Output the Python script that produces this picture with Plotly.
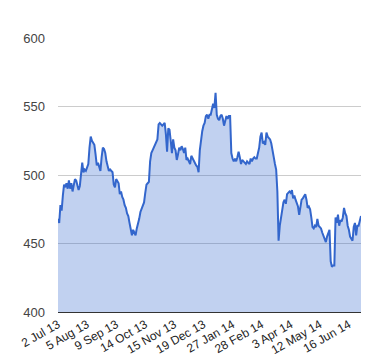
import plotly.graph_objects as go

values = [
    468, 465, 478, 474, 485, 493, 491, 494, 490, 496,
    490, 494, 488, 492, 497, 496, 493, 489, 492, 500,
    509, 502, 504, 503, 505, 508, 520, 528, 525, 523,
    522, 515, 507, 509, 506, 503, 513, 520, 519, 516,
    510, 506, 503, 504, 503, 502, 493, 491, 497, 495,
    494, 486, 488, 484, 482, 478, 476, 472, 470, 465,
    461, 456, 460, 458, 456, 461, 464, 468, 473, 475,
    477, 480, 487, 493, 494, 495, 510, 516, 518, 520,
    522, 524, 526, 537, 538, 537, 536, 537, 538, 530,
    517, 534, 533, 525, 516, 526, 520, 518, 511, 515,
    520, 518, 521, 519, 516, 520, 511, 512, 510, 508,
    514, 512, 511, 508, 507, 506, 502, 518, 526, 532,
    536, 538, 543, 544, 541, 544, 544, 548, 552, 549,
    560, 544, 541, 540, 543, 544, 541, 536, 540, 543,
    541, 543, 543, 516, 512, 510, 512, 510, 513, 517,
    513, 508, 511, 510, 509, 508, 510, 509, 508, 512,
    510, 512, 513, 512, 512, 516, 520, 528, 531, 523,
    524, 522, 531, 528, 527, 526, 523, 516, 513, 508,
    504, 488, 452, 463, 470, 476, 480, 482, 479, 486,
    487, 488, 487, 489, 483, 485, 482, 480, 477, 471,
    477, 482, 483, 485, 486, 482, 476, 477, 475, 469,
    462, 461, 463, 462, 468, 463, 462, 461, 458, 456,
    454, 451, 455, 458, 460, 437, 433, 434, 434, 469,
    465, 471, 463, 467, 466, 469, 476, 472, 470, 463,
    460, 455, 453, 452, 462, 465, 456, 463, 463, 466,
    470,
]
tick_labels = ["2 Jul 13", "5 Aug 13", "9 Sep 13", "14 Oct 13", "15 Nov 13",
               "19 Dec 13", "27 Jan 14", "28 Feb 14", "3 Apr 14", "12 May 14",
               "16 Jun 14"]
tick_step = 24
y_ticks = [400, 450, 500, 550, 600]

x = list(range(len(values)))
tick_positions = [i * tick_step for i in range(len(tick_labels))]

fig = go.Figure()
fig.add_trace(go.Scatter(
    x=x, y=values, mode="lines",
    line=dict(color="#3366CC", width=2),
    fill="tozeroy", fillcolor="rgba(51,102,204,0.3)",
    hoverinfo="skip",
))

fig.update_layout(
    width=372, height=352,
    margin=dict(l=50, r=19, t=30, b=48),
    paper_bgcolor="white", plot_bgcolor="white",
    showlegend=False,
    font=dict(family="Liberation Sans, Arial, sans-serif", color="#444444"),
    xaxis=dict(
        range=[0, len(values) - 1],
        tickmode="array", tickvals=tick_positions, ticktext=tick_labels,
        tickangle=-30, tickfont=dict(size=12, color="#222222"),
        showgrid=False, zeroline=False,
        showline=True, linecolor="#333333", linewidth=1,
        ticks="", automargin=False,
    ),
    yaxis=dict(
        range=[400, 600],
        tickmode="array", tickvals=y_ticks,
        tickfont=dict(size=13, color="#444444"),
        showgrid=True, gridcolor="#CCCCCC", gridwidth=1,
        zeroline=False, showline=False,
        ticks="", ticklabelstandoff=12, automargin=False,
    ),
)

fig.write_html("out.html")
